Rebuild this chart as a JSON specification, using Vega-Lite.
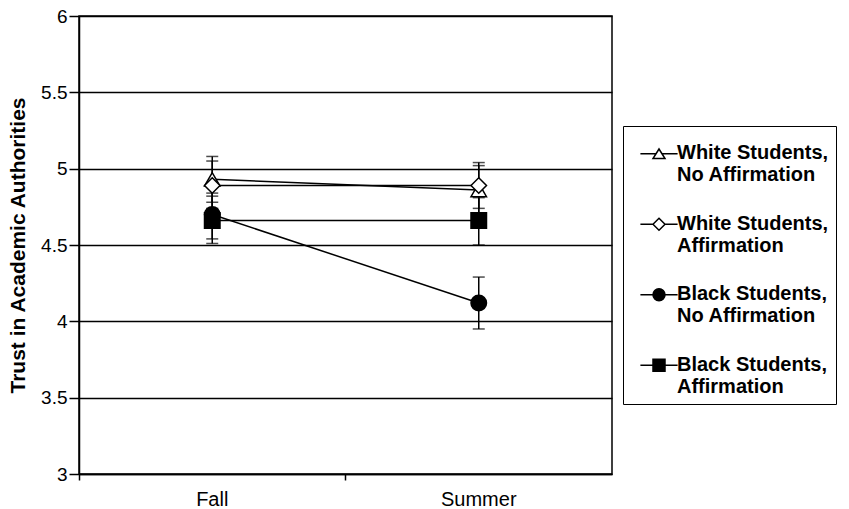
{
  "$schema": "https://vega.github.io/schema/vega-lite/v6.json",
  "width": 533,
  "height": 458,
  "autosize": {"type": "none"},
  "padding": {"left": 79, "top": 16, "right": 237, "bottom": 35},
  "background": "white",
  "config": {
    "view": {"stroke": "black", "strokeWidth": 1.5},
    "font": "Liberation Sans"
  },
  "data": {
    "values": [
      {"group": "White Students, No Affirmation", "time": "Fall", "mean": 4.93, "lo": 4.78, "hi": 5.08},
      {"group": "White Students, No Affirmation", "time": "Summer", "mean": 4.86, "lo": 4.71, "hi": 5.02},
      {"group": "White Students, Affirmation", "time": "Fall", "mean": 4.89, "lo": 4.74, "hi": 5.05},
      {"group": "White Students, Affirmation", "time": "Summer", "mean": 4.89, "lo": 4.74, "hi": 5.04},
      {"group": "Black Students, No Affirmation", "time": "Fall", "mean": 4.70, "lo": 4.54, "hi": 4.84},
      {"group": "Black Students, No Affirmation", "time": "Summer", "mean": 4.12, "lo": 3.95, "hi": 4.29},
      {"group": "Black Students, Affirmation", "time": "Fall", "mean": 4.66, "lo": 4.51, "hi": 4.82},
      {"group": "Black Students, Affirmation", "time": "Summer", "mean": 4.66, "lo": 4.50, "hi": 4.81}
    ]
  },
  "encoding": {
    "x": {
      "field": "time",
      "type": "nominal",
      "sort": ["Fall", "Summer"],
      "scale": {"type": "band", "paddingInner": 0, "paddingOuter": 0},
      "axis": {
        "title": null,
        "labelAngle": 0,
        "bandPosition": 0,
        "domainColor": "black",
        "domainWidth": 1.5,
        "tickColor": "black",
        "tickWidth": 1.5,
        "tickSize": 6,
        "labelPadding": 9,
        "labelFontSize": 20,
        "labelColor": "black",
        "grid": false
      }
    }
  },
  "layer": [
    {
      "mark": {"type": "rule", "color": "black", "strokeWidth": 1.5},
      "encoding": {
        "y": {
          "field": "lo",
          "type": "quantitative",
          "scale": {"domain": [3, 6], "nice": false, "zero": false},
          "axis": {
            "title": "Trust in Academic Authorities",
            "titleFontSize": 21,
            "titleFontWeight": "bold",
            "titleColor": "black",
            "titlePadding": 12,
            "values": [3, 3.5, 4, 4.5, 5, 5.5, 6],
            "labelExpr": "datum.value + ''",
            "labelFontSize": 19,
            "labelColor": "black",
            "labelPadding": 2,
            "tickSize": 10,
            "tickColor": "black",
            "tickWidth": 1.5,
            "domainColor": "black",
            "domainWidth": 1.5,
            "grid": true,
            "gridColor": "black",
            "gridWidth": 1.5,
            "gridOpacity": 1
          }
        },
        "y2": {"field": "hi"},
        "detail": {"field": "group"}
      }
    },
    {
      "mark": {"type": "tick", "color": "black", "size": 12, "thickness": 1.5, "orient": "horizontal"},
      "encoding": {
        "y": {"field": "lo", "type": "quantitative"},
        "detail": {"field": "group"}
      }
    },
    {
      "mark": {"type": "tick", "color": "black", "size": 12, "thickness": 1.5, "orient": "horizontal"},
      "encoding": {
        "y": {"field": "hi", "type": "quantitative"},
        "detail": {"field": "group"}
      }
    },
    {
      "mark": {"type": "line", "color": "black", "strokeWidth": 1.5},
      "encoding": {
        "y": {"field": "mean", "type": "quantitative"},
        "detail": {"field": "group"}
      }
    },
    {
      "mark": {"type": "point", "filled": true, "stroke": "black", "strokeWidth": 1.5, "opacity": 1, "size": 240},
      "encoding": {
        "y": {"field": "mean", "type": "quantitative"},
        "shape": {
          "field": "group",
          "type": "nominal",
          "scale": {
            "domain": ["White Students, No Affirmation", "White Students, Affirmation", "Black Students, No Affirmation", "Black Students, Affirmation"],
            "range": ["triangle-up", "diamond", "circle", "square"]
          },
          "legend": null
        },
        "fill": {
          "field": "group",
          "type": "nominal",
          "scale": {
            "domain": ["White Students, No Affirmation", "White Students, Affirmation", "Black Students, No Affirmation", "Black Students, Affirmation"],
            "range": ["white", "white", "black", "black"]
          },
          "legend": null
        }
      }
    },
    {
      "transform": [{"filter": "false"}],
      "mark": {"type": "point", "filled": true, "strokeWidth": 1.5, "opacity": 1, "size": 144},
      "encoding": {
        "y": {"field": "mean", "type": "quantitative"},
        "shape": {
          "field": "group",
          "type": "nominal",
          "scale": {
            "domain": ["White Students, No Affirmation", "White Students, Affirmation", "Black Students, No Affirmation", "Black Students, Affirmation"],
            "range": [
              "M-3.1,1.8H-0.5M0.5,1.8H3.1M0,1L1,2.6L-1,2.6Z",
              "M-3.1,1.8H-1M1,1.8H3.1M0,0.8L1,1.8L0,2.8L-1,1.8Z",
              "M-3.1,1.8H-1M1,1.8H3.1M-1,1.8A1,1,0,1,0,1,1.8A1,1,0,1,0,-1,1.8Z",
              "M-3.1,1.8H-1M1,1.8H3.1M-1,0.8H1V2.8H-1Z"
            ]
          },
          "legend": {
            "title": null,
            "orient": "none",
            "legendX": 544,
            "legendY": 110,
            "strokeColor": "black",
            "padding": 7,
            "fillColor": "white",
            "labelFont": "Liberation Sans",
            "labelFontWeight": "bold",
            "labelFontSize": 20,
            "labelColor": "black",
            "labelLimit": 400,
            "labelExpr": "[split(datum.label, ', ')[0] + ',', split(datum.label, ', ')[1]]",
            "labelBaseline": "top",
            "labelOffset": 8,
            "symbolOffset": 19,
            "symbolSize": 144,
            "symbolStrokeWidth": 1.5,
            "rowPadding": 18.5
          }
        },
        "fill": {
          "field": "group",
          "type": "nominal",
          "scale": {
            "domain": ["White Students, No Affirmation", "White Students, Affirmation", "Black Students, No Affirmation", "Black Students, Affirmation"],
            "range": ["white", "white", "black", "black"]
          }
        },
        "stroke": {
          "field": "group",
          "type": "nominal",
          "scale": {
            "domain": ["White Students, No Affirmation", "White Students, Affirmation", "Black Students, No Affirmation", "Black Students, Affirmation"],
            "range": ["black", "black", "black", "black"]
          }
        }
      }
    }
  ],
  "resolve": {
    "scale": {"shape": "independent", "fill": "independent", "stroke": "independent"},
    "legend": {"shape": "independent", "fill": "independent", "stroke": "independent"}
  }
}
